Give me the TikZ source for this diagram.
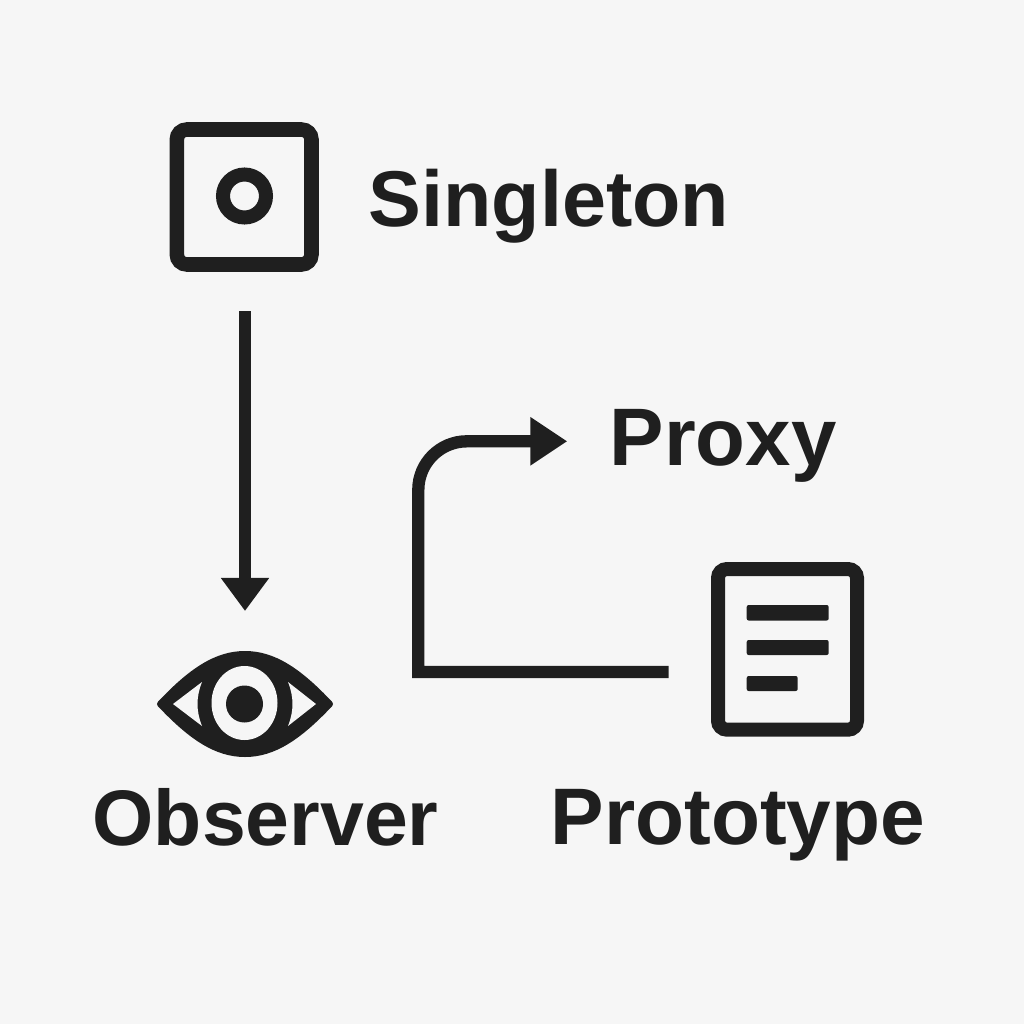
\documentclass[tikz,border=0pt]{standalone}
\usepackage{fontspec}
\setmainfont{Liberation Sans}
\usetikzlibrary{arrows.meta}
\definecolor{ink}{HTML}{1F1F1F}
\definecolor{paper}{HTML}{F6F6F6}
\tikzset{
 px/.style={x=0.01cm,y=-0.01cm},
 lbl/.style={text=ink,font=\bfseries\fontsize{#1}{#1}\selectfont,inner sep=0pt,anchor=base west},
 ln/.style={draw=ink,line width=0.123cm},
 tipa/.style={-{Triangle[length=0.33cm,width=0.46cm]}},
 tipb/.style={-{Triangle[length=0.37cm,width=0.46cm]}},
 bar/.style={fill=ink,rounded corners=0.02cm}
}
\begin{document}
\begin{tikzpicture}[px]
\fill[paper] (0,0) rectangle (1024,1024);
\useasboundingbox (0,0) rectangle (1024,1024);
\draw[ink,line width=0.145cm,rounded corners=0.1cm] (176.8,129.5) rectangle (311.5,264.5);
\draw[ink,line width=0.14cm] (244.5,196) circle (21.5);
\node[lbl=22.5] (s) at (368,226) {Singleton};
\coordinate (a1) at (245,311);
\coordinate (a2) at (245,611);
\draw[ln,tipa] (a1) -- (a2);
\filldraw[ink,line width=0.06cm,line join=round] (160,704) .. controls (192,670) and (217,654) .. (245,654) .. controls (273,654) and (298,670) .. (330,704) .. controls (298,738) and (273,754) .. (245,754) .. controls (217,754) and (192,738) .. (160,704) -- cycle;
\fill[paper] (173,704) -- (202,682) .. controls (196,697) and (196,711) .. (202,726) -- cycle;
\fill[paper] (316,704) -- (288,682) .. controls (294,697) and (294,711) .. (288,726) -- cycle;
\fill[paper] (244.5,703) ellipse (33 and 37);
\fill[ink] (244.5,704) circle (18.5);
\node[lbl=22.4] (o) at (92,845) {Observer};
\node[lbl=23.2] (p) at (609,465) {Proxy};
\draw[ink,line width=0.14cm,rounded corners=0.09cm] (718,569) rectangle (857,729.7);
\fill[bar] (746.7,605) rectangle (828.7,620.5);
\fill[bar] (746.7,640) rectangle (828.7,655);
\fill[bar] (746.7,676) rectangle (797.7,691);
\node[lbl=22.8] (t) at (550,844.5) {Prototype};
\coordinate (b1) at (668.7,672);
\coordinate (b2) at (418.3,672);
\coordinate (b3) at (418.3,490);
\coordinate (b4) at (467,441.3);
\coordinate (b5) at (567.3,441.3);
\draw[ln,tipb] (b1) -- (b2) -- (b3) .. controls (418.3,463) and (440,441.3) .. (b4) -- (b5);
\end{tikzpicture}
\end{document}
